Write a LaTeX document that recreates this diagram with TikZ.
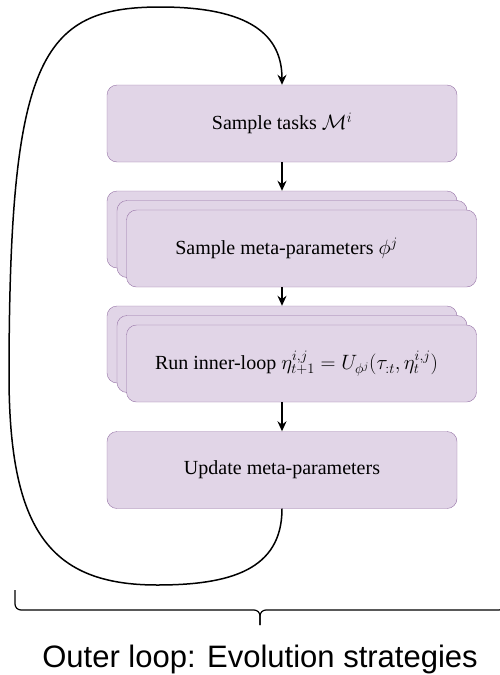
\documentclass[tikz,border=0pt]{standalone}
\usepackage{fontspec}
\setmainfont{Liberation Serif}
\newfontfamily\captionfont{Liberation Sans}
\usetikzlibrary{arrows.meta}
\definecolor{stagefill}{HTML}{E1D5E7}
\definecolor{stageline}{HTML}{9673A6}
\tikzstyle{stage} = [rectangle, rounded corners=10pt, text centered, draw=stageline, fill=stagefill, minimum width=350pt, minimum height=77pt, font=\fontsize{20}{24}\selectfont]
\tikzstyle{arrow} = [line width=1.5pt,->,>={Stealth[length=10pt,width=9pt]}]
\tikzstyle{brace} = [line width=1.2pt, rounded corners=6pt]

\begin{document}
\begin{tikzpicture}[x=1pt, y=-1pt]
  \useasboundingbox (0,0) rectangle (499,675);

  \node (tasks) [stage] at (282,123.5) {Sample tasks $\mathcal{M}^i$};

  \node (phiback2) [stage] at (282,229.5) {};
  \node (phiback1) [stage] at (292,239) {};
  \node (phi) [stage] at (301.5,248.5) {Sample meta-parameters $\phi^j$\hspace*{30pt}};

  \node (innerback2) [stage] at (282,344.5) {};
  \node (innerback1) [stage] at (292,354) {};
  \node (inner) [stage] at (301.5,363.5) {Run inner-loop $\eta^{i,j}_{t+1} = U_{\phi^j}(\tau_{:t}, \eta^{i,j}_t)$\hspace*{10pt}};

  \node (update) [stage] at (282,470) {Update meta-parameters};

  \draw [arrow] (tasks) -- (phiback2);
  \draw [arrow] (phi.south -| tasks.south) -- (innerback2);
  \draw [arrow] (inner.south -| tasks.south) -- (update);

  % outer loop back to the top
  \draw [arrow] (update.south) .. controls (282,570) and (230,585) .. (157,585)
    .. controls (50,585) and (10,530) .. (9,380)
    .. controls (9,60) and (40,7) .. (160,7)
    .. controls (250,7) and (282,35) .. (tasks.north);

  \draw [brace] (15,590) -- (15,610) -- (260,610) -- (260,625);
  \draw [brace] (505,590) -- (505,610) -- (260,610) -- (260,625);

  \node (outer) [anchor=base, font=\captionfont\fontsize{31}{36}\selectfont] at (260,667) {Outer loop: Evolution strategies};
\end{tikzpicture}
\end{document}
